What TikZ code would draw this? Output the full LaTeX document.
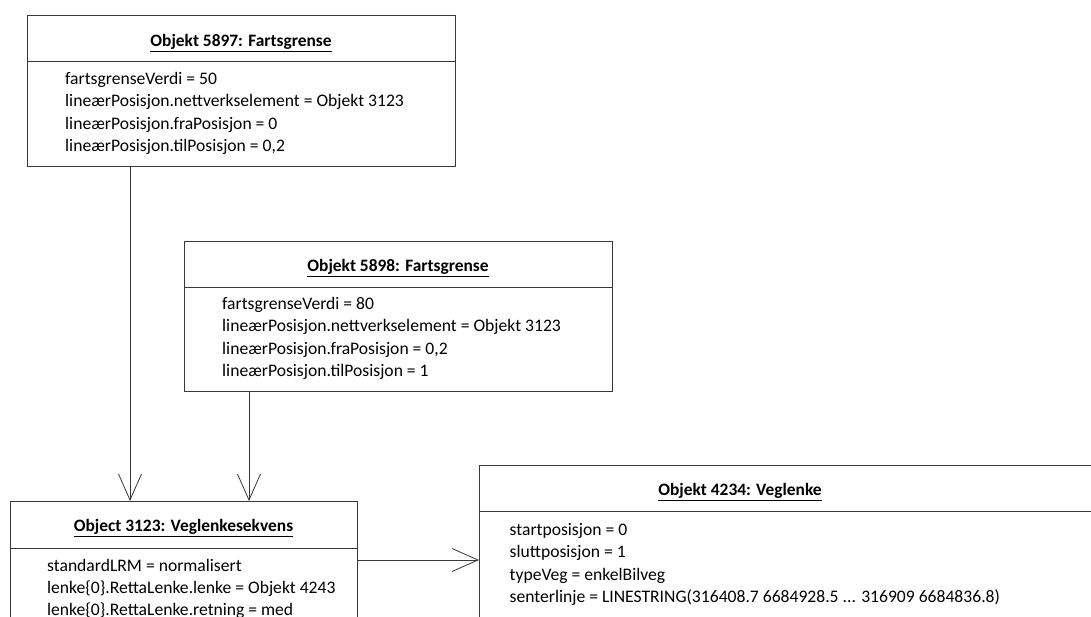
\documentclass[tikz,border=0pt]{standalone}
\usepackage{fontspec}
\setmainfont{Carlito}
\usetikzlibrary{arrows.meta}
\definecolor{edge}{gray}{0.22}
\tikzset{
  umlbox/.style={draw=edge, line width=0.9pt, fill=white, inner sep=0pt, anchor=north west},
  divider/.style={draw=edge, line width=0.9pt},
  titletext/.style={inner sep=0pt, anchor=base, font=\fontsize{17.4pt}{21pt}\selectfont\bfseries},
  attr/.style={inner sep=0pt, anchor=base west, font=\fontsize{17.6pt}{21pt}\selectfont},
  uline/.style={draw=black, line width=0.8pt},
  assoc/.style={draw=edge, line width=0.8pt, -{Straight Barb[length=26pt, width=23pt, line width=0.8pt]}}
}
\begin{document}
\begin{tikzpicture}[x=1pt, y=-1pt]
  \clip (0,0) rectangle (1091,617);
  \fill[white] (0,0) rectangle (1091,617);

  % Objekt 5897
  \node[umlbox, minimum width=428pt, minimum height=151pt] (o5897) at (27,15) {};
  \draw[divider] ([yshift=-46.7pt]o5897.north west) -- ([yshift=-46.7pt]o5897.north east);
  \node[titletext] (t5897) at (241,46.7) {Objekt 5897: Fartsgrense};
  \draw[uline] ([yshift=-5pt]t5897.base west) -- ([yshift=-5pt]t5897.base east);
  \node[attr] (a5897a) at (65,84.5) {fartsgrenseVerdi = 50};
  \node[attr] (a5897b) at (65,107) {lineærPosisjon.nettverkselement = Objekt 3123};
  \node[attr] (a5897c) at (65,129.5) {lineærPosisjon.fraPosisjon = 0};
  \node[attr] (a5897d) at (65,152) {lineærPosisjon.tilPosisjon = 0,2};

  % Objekt 5898
  \node[umlbox, minimum width=428pt, minimum height=150pt] (o5898) at (184,241) {};
  \draw[divider] ([yshift=-46pt]o5898.north west) -- ([yshift=-46pt]o5898.north east);
  \node[titletext] (t5898) at (398,271.7) {Objekt 5898: Fartsgrense};
  \draw[uline] ([yshift=-5pt]t5898.base west) -- ([yshift=-5pt]t5898.base east);
  \node[attr] (a5898a) at (222,309) {fartsgrenseVerdi = 80};
  \node[attr] (a5898b) at (222,331.5) {lineærPosisjon.nettverkselement = Objekt 3123};
  \node[attr] (a5898c) at (222,354) {lineærPosisjon.fraPosisjon = 0,2};
  \node[attr] (a5898d) at (222,376.5) {lineærPosisjon.tilPosisjon = 1};

  % Object 3123
  \node[umlbox, minimum width=347pt, minimum height=160pt] (o3123) at (10,501) {};
  \draw[divider] ([yshift=-47pt]o3123.north west) -- ([yshift=-47pt]o3123.north east);
  \node[titletext] (t3123) at (183.5,531.7) {Object 3123: Veglenkesekvens};
  \draw[uline] ([yshift=-5pt]t3123.base west) -- ([yshift=-5pt]t3123.base east);
  \node[attr] (a3123a) at (47,571.7) {standardLRM = normalisert};
  \node[attr] (a3123b) at (47,593.7) {lenke\{0\}.RettaLenke.lenke = Objekt 4243};
  \node[attr] (a3123c) at (47,615.7) {lenke\{0\}.RettaLenke.retning = med};

  % Objekt 4234
  \node[umlbox, minimum width=700pt, minimum height=200pt] (o4234) at (479,465) {};
  \draw[divider] ([yshift=-46pt]o4234.north west) -- ([yshift=-46pt]o4234.north east);
  \node[titletext] (t4234) at (740,495.7) {Objekt 4234: Veglenke};
  \draw[uline] ([yshift=-5pt]t4234.base west) -- ([yshift=-5pt]t4234.base east);
  \node[attr] (a4234a) at (509.5,535) {startposisjon = 0};
  \node[attr] (a4234b) at (509.5,557.5) {sluttposisjon = 1};
  \node[attr] (a4234c) at (509.5,580) {typeVeg = enkelBilveg};
  \node[attr] (a4234d) at (509.5,602.5) {senterlinje = LINESTRING(316408.7 6684928.5 ... 316909 6684836.8)};

  % links
  \draw[assoc] (o5897.south -| 130,0) -- (o3123.north -| 130,0);
  \draw[assoc] (o5898.south -| 249,0) -- (o3123.north -| 249,0);
  \draw[assoc] (o3123.east |- 0,560) -- (o4234.west |- 0,560);
\end{tikzpicture}
\end{document}
